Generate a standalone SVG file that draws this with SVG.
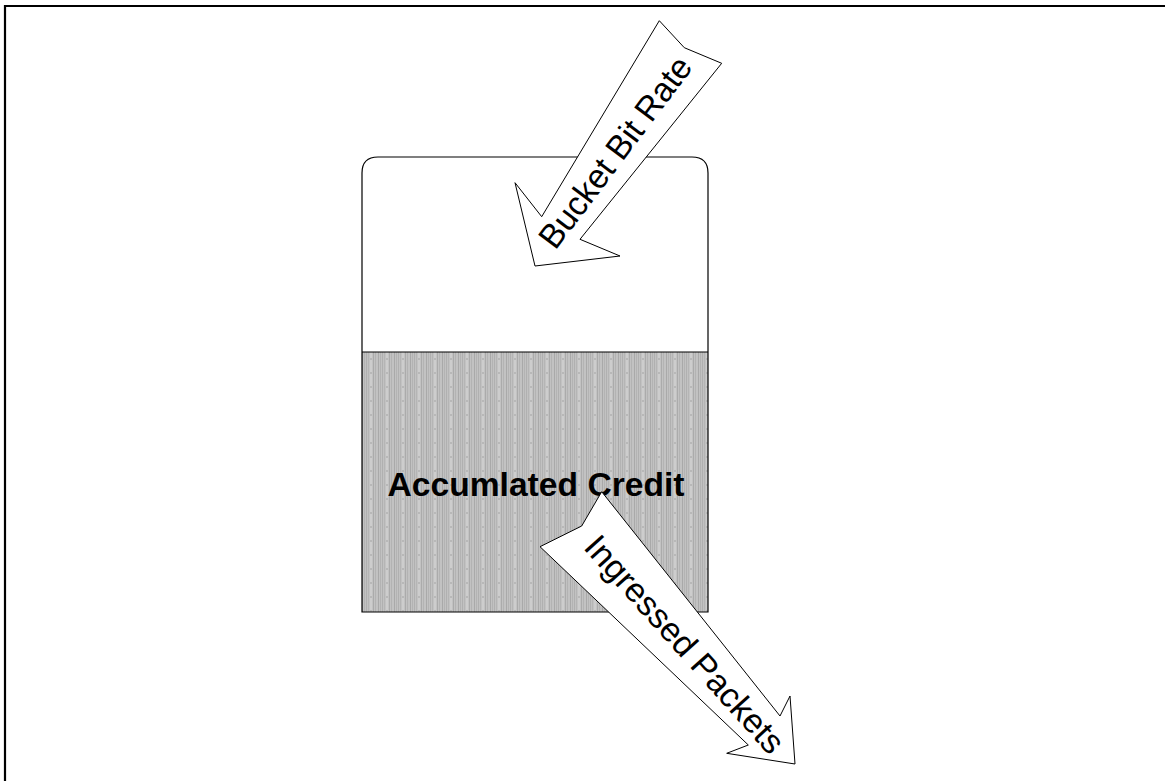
<svg xmlns="http://www.w3.org/2000/svg" width="1165" height="781" viewBox="0 0 1165 781">
<style>
.frame{stroke:#000;stroke-width:2.2;fill:none}
.outline{stroke:#000;stroke-width:1.2;fill:none}
.arrow{fill:#fff;stroke:#000;stroke-width:1;stroke-linejoin:miter}
.lbl{font-family:"Liberation Sans",Arial,sans-serif;font-size:34px;fill:#000;text-anchor:middle;dominant-baseline:central}
.title{font-family:"Liberation Sans",Arial,sans-serif;font-size:34px;font-weight:bold;fill:#000;text-anchor:middle}
</style>
<defs>
<pattern id="stripes" patternUnits="userSpaceOnUse" x="362" y="352" width="16" height="14">
<rect width="16" height="14" fill="#c2c2c2"/>
<rect x="0" y="0" width="1" height="14" fill="#a9a9a9"/>
<rect x="2" y="0" width="1" height="14" fill="#b3b3b3"/>
<rect x="4" y="0" width="1" height="14" fill="#b0b0b0"/>
<rect x="6" y="0" width="1" height="14" fill="#b5b5b5"/>
<rect x="8" y="0" width="2" height="14" fill="#cdcdcd"/>
<rect x="11" y="0" width="1" height="14" fill="#ababab"/>
<rect x="13" y="0" width="1" height="14" fill="#b3b3b3"/>
<rect x="8" y="6" width="2" height="2" fill="#b8b8b8"/>
</pattern>
</defs>
<rect width="1165" height="781" fill="#fff"/>
<g id="frame">
<path class="frame" d="M5,781 V6 H1165"/>
</g>
<g id="bucket">
<rect x="362" y="352" width="346" height="260" fill="url(#stripes)"/>
<path class="outline" d="M362,612 V173 Q362,157 378,157 H692 Q708,157 708,173 V612 Z"/>
<line class="outline" x1="362" y1="352" x2="708" y2="352"/>
<text class="title" x="536" y="496" textLength="297" lengthAdjust="spacingAndGlyphs">Accumlated Credit</text>
</g>
<g id="connectors">
<g id="bucket-bit-rate">
<polygon class="arrow" points="659.3,20.7 684.3,47.7 721.7,63.3 580,239.3 620,256 535,266 515,182.7 541.7,216.7"/>
<text class="lbl" transform="translate(615,152) rotate(-53)" textLength="230" lengthAdjust="spacingAndGlyphs">Bucket Bit Rate</text>
</g>
<g id="ingressed-packets">
<polygon class="arrow" points="601.7,491.7 780,716 790,696 795,764 726.7,753.3 748.3,745 540,546.7 581.7,526"/>
<text class="lbl" transform="translate(685,644) rotate(48)" textLength="280" lengthAdjust="spacingAndGlyphs">Ingressed Packets</text>
</g>
</g>
</svg>
